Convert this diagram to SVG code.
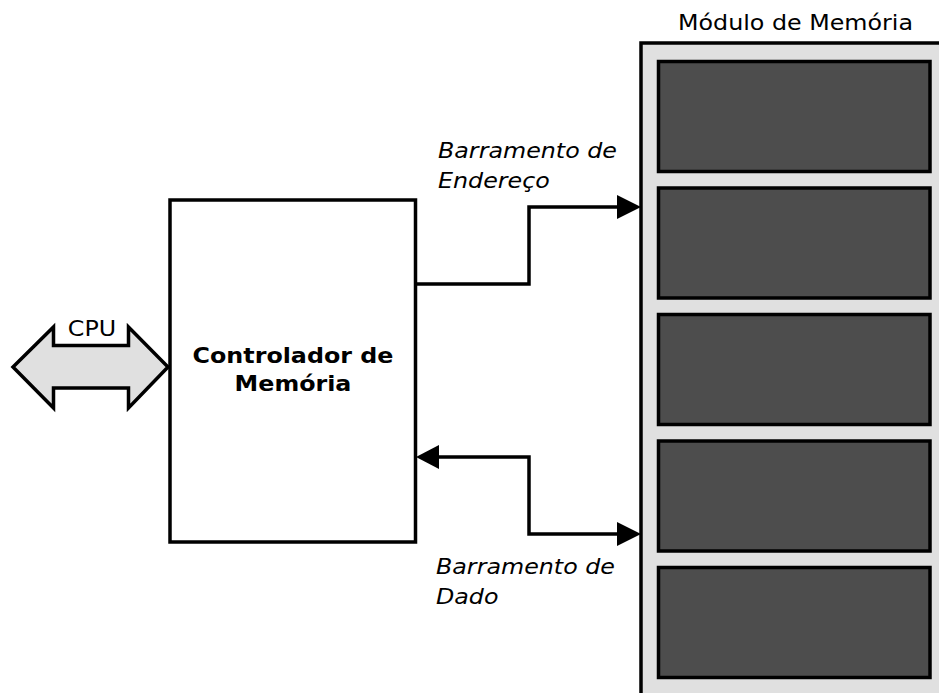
<svg xmlns="http://www.w3.org/2000/svg" width="939" height="693" viewBox="0 0 939 693">
<style>
.lbl{font-family:"DejaVu Sans","Liberation Sans",sans-serif;font-size:21.5px;fill:#000}
.it{font-style:oblique}
.bd{font-weight:bold;font-size:21px}
.box{fill:#fff;stroke:#000;stroke-width:3.5}
.mod{fill:#e0e0e0;stroke:#000;stroke-width:3.5}
.cell{fill:#4d4d4d;stroke:#000;stroke-width:3.5}
.wire{fill:none;stroke:#000;stroke-width:3.5}
.head{fill:#000;stroke:none}
</style>
<rect width="939" height="693" fill="#fff"/>
<g id="modulo">
<rect class="mod" x="641" y="43" width="320" height="670"/>
<rect class="cell" x="658.5" y="61.5" width="271.5" height="110"/>
<rect class="cell" x="658.5" y="188" width="271.5" height="110"/>
<rect class="cell" x="658.5" y="314.5" width="271.5" height="110"/>
<rect class="cell" x="658.5" y="441" width="271.5" height="110"/>
<rect class="cell" x="658.5" y="567.5" width="271.5" height="110"/>
<text class="lbl" text-anchor="middle" transform="translate(795.5,30) scale(1.106,1)">Módulo de Memória</text>
</g>
<g id="controlador">
<rect class="box" x="170" y="200" width="245.5" height="342"/>
<text class="lbl bd" text-anchor="middle" transform="translate(293,362.5) scale(1.133,1)">Controlador de</text>
<text class="lbl bd" text-anchor="middle" transform="translate(293,390.5) scale(1.133,1)">Memória</text>
</g>
<g id="cpu">
<polygon points="13,367 53.5,327 53.5,345.5 128.5,345.5 128.5,327 168,367 128.5,408 128.5,388 53.5,388 53.5,408" fill="#e0e0e0" stroke="#000" stroke-width="3.5" stroke-linejoin="miter"/>
<text class="lbl" text-anchor="middle" transform="translate(92,336) scale(1.106,1)">CPU</text>
</g>
<g id="conectores">
<polyline class="wire" points="415.5,284 529,284 529,207 620,207"/>
<polygon class="head" points="617,195 641,207 617,219"/>
<polyline class="wire" points="436,457 529,457 529,534 620,534"/>
<polygon class="head" points="617,522 641,534 617,546"/>
<polygon class="head" points="439,445 416,457 439,469"/>
</g>
<g id="rotulos">
<text class="lbl it" transform="translate(438,157.5) scale(1.106,1)">Barramento de</text>
<text class="lbl it" transform="translate(438,188) scale(1.106,1)">Endereço</text>
<text class="lbl it" transform="translate(436,573.5) scale(1.106,1)">Barramento de</text>
<text class="lbl it" transform="translate(436,604) scale(1.106,1)">Dado</text>
</g>
</svg>
